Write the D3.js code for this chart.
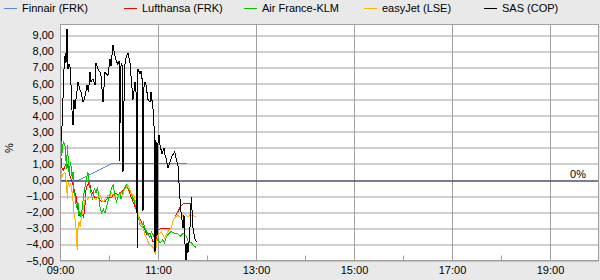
<!DOCTYPE html>
<html>
<head>
<meta charset="utf-8">
<script src="https://cdn.jsdelivr.net/npm/d3@7"></script>
<style>
  html, body { margin: 0; padding: 0; background: #e9e9e9; }
  svg { display: block; font-family: "Liberation Sans", Arial, sans-serif; }
</style>
</head>
<body>
<svg id="chart" width="600" height="280"></svg>
<script>
// series names and colours, legend order
var names = ["Finnair (FRK)", "Lufthansa (FRK)", "Air France-KLM", "easyJet (LSE)", "SAS (COP)"];
var colors = ["#5b88d8", "#ff0000", "#00c800", "#ffb400", "#000000"];

// tick values
var yTicks = [-5, -4, -3, -2, -1, 0, 1, 2, 3, 4, 5, 6, 7, 8, 9];
var xMajor = ["09:00", "11:00", "13:00", "15:00", "17:00", "19:00"];
var xMinor = ["10:00", "12:00", "14:00", "16:00", "18:00"];
var xStart = "09:00", xEnd = "20:00";

// percent change since open, [time, value]
var finnair = [["09:00", 0], ["09:23", 0], ["10:05", 1.05], ["11:35", 1.05]];

var lufthansa = [
  ["09:00", 0], ["09:01", 1.55], ["09:02", 0.8], ["09:04", 0.6], ["09:08", 1.1], ["09:12", 0.3],
  ["09:16", -0.3], ["09:20", -1.1], ["09:23", -2.2], ["09:26", -2.1], ["09:29", -2.3], ["09:31", -1.35],
  ["09:32", -0.5], ["09:34", -0.3], ["09:36", -0.1], ["09:38", -0.6], ["09:42", -1.05], ["09:47", -1.1],
  ["09:51", -1.35], ["09:55", -1.35], ["09:59", -1.05], ["10:03", -1.1], ["10:07", -0.8], ["10:11", -0.9],
  ["10:15", -0.75], ["10:19", -0.5], ["10:23", -0.45], ["10:27", -1.05], ["10:31", -1.55], ["10:36", -2.2],
  ["10:40", -2.65], ["10:44", -3.1], ["10:46", -3.4], ["10:50", -3.3], ["10:54", -3.85], ["10:58", -3.6],
  ["11:00", -3.1], ["11:04", -3.0], ["11:16", -3.0], ["11:18", -2.6], ["11:22", -2.2], ["11:27", -1.7],
  ["11:31", -1.45], ["11:39", -1.45], ["11:40", -1.5]
];

var airFrance = [
  ["09:00", 0], ["09:01", 2.8], ["09:02", 1.5], ["09:04", 2.4], ["09:06", 2.2], ["09:08", 0.7],
  ["09:09", 2.2], ["09:11", 0.5], ["09:13", 1.1], ["09:15", 0.1], ["09:16", 0.5], ["09:17", -0.75],
  ["09:19", -1.1], ["09:20", -1.75], ["09:22", -1.35], ["09:23", -2.2], ["09:24", -1.9], ["09:26", -2.35],
  ["09:28", -1.35], ["09:30", -0.6], ["09:32", -0.1], ["09:34", 0.5], ["09:35", 0.2], ["09:36", -0.3],
  ["09:38", -0.8], ["09:40", -1.25], ["09:42", -0.5], ["09:44", -0.8], ["09:46", -0.45], ["09:49", -1.7],
  ["09:51", -2.05], ["09:53", -1.8], ["09:55", -2.05], ["09:57", -1.7], ["09:59", -1.25], ["10:01", -0.9],
  ["10:03", -0.5], ["10:05", -0.3], ["10:07", -0.9], ["10:09", -1.35], ["10:11", -1.05], ["10:13", -0.8],
  ["10:15", -1.2], ["10:17", -0.7], ["10:19", -0.5], ["10:21", -0.3], ["10:23", -0.5], ["10:25", -0.6],
  ["10:27", -0.8], ["10:29", -1.1], ["10:31", -1.3], ["10:33", -1.7], ["10:36", -2.3], ["10:38", -2.8],
  ["10:40", -2.9], ["10:42", -2.6], ["10:44", -3.0], ["10:46", -3.2], ["10:48", -3.4], ["10:50", -3.6],
  ["10:52", -3.2], ["10:54", -3.4], ["10:56", -3.6], ["10:58", -3.85], ["11:00", -3.6], ["11:02", -3.9],
  ["11:04", -3.85], ["11:06", -3.7], ["11:08", -3.9], ["11:10", -3.6], ["11:12", -3.4], ["11:16", -3.2],
  ["11:20", -3.3], ["11:24", -3.3], ["11:27", -3.5], ["11:31", -3.3], ["11:35", -3.5], ["11:37", -3.85],
  ["11:41", -3.9], ["11:43", -4.05], ["11:47", -4.2]
];

var easyJet = [
  ["09:00", 0], ["09:01", 0.9], ["09:02", 0.1], ["09:04", 0.4], ["09:06", 0.5], ["09:08", -0.2],
  ["09:09", -1.2], ["09:10", -0.1], ["09:12", -0.45], ["09:13", -0.2], ["09:15", -0.8], ["09:16", -1.35],
  ["09:17", -2.0], ["09:19", -2.6], ["09:20", -3.2], ["09:21", -4.35], ["09:22", -3.0], ["09:23", -2.6],
  ["09:25", -2.9], ["09:26", -2.35], ["09:28", -2.0], ["09:30", -1.35], ["09:32", -1.05], ["09:34", -1.2],
  ["09:36", -1.05], ["09:38", -1.1], ["09:40", -0.95], ["09:42", -1.15], ["09:44", -1.25], ["09:46", -1.05],
  ["09:49", -0.95], ["09:51", -1.2], ["09:53", -1.35], ["09:55", -1.2], ["09:57", -1.1], ["09:59", -0.95],
  ["10:01", -1.05], ["10:03", -0.8], ["10:05", -0.95], ["10:07", -1.05], ["10:09", -0.9], ["10:11", -1.0],
  ["10:13", -0.9], ["10:15", -0.8], ["10:17", -0.95], ["10:19", -0.6], ["10:21", -0.5], ["10:23", -0.3],
  ["10:25", -0.5], ["10:27", -0.8], ["10:29", -0.95], ["10:31", -1.05], ["10:33", -1.55], ["10:36", -2.2],
  ["10:38", -2.65], ["10:40", -2.75], ["10:42", -3.0], ["10:44", -3.4], ["10:46", -3.6], ["10:48", -3.85],
  ["10:50", -4.05], ["10:52", -4.1], ["10:54", -4.2], ["10:56", -4.45], ["10:57", -4.65], ["10:58", -3.85],
  ["11:00", -3.4], ["11:02", -3.3], ["11:04", -3.2], ["11:06", -3.4], ["11:08", -3.6], ["11:12", -3.2],
  ["11:16", -3.0], ["11:18", -2.6], ["11:20", -2.35], ["11:24", -2.2], ["11:29", -2.35], ["11:31", -2.0],
  ["11:35", -2.2], ["11:37", -2.3], ["11:39", -2.15], ["11:43", -2.2], ["11:47", -2.3]
];

var sas = [
  ["09:00:00", 0], ["09:00:37", 1.4], ["09:01:13", 2.8], ["09:01:50", 2.4], ["09:03:04", 4.2],
  ["09:04:54", 6.9], ["09:06:29", 7.9], ["09:07:21", 7.3], ["09:08:34", 9.4], ["09:09:48", 6.9],
  ["09:11:01", 7.2], ["09:13:06", 6.9], ["09:13:50", 5.0], ["09:15:55", 3.4], ["09:17:09", 5.0],
  ["09:18:22", 4.4], ["09:19:35", 5.0], ["09:22:02", 6.1], ["09:24:07", 5.65], ["09:25:43", 5.5],
  ["09:28:10", 4.85], ["09:30:15", 5.1], ["09:33:04", 5.9], ["09:34:54", 5.5], ["09:36:44", 6.7],
  ["09:37:58", 6.1], ["09:40:24", 6.3], ["09:42:51", 5.9], ["09:44:05", 7.3], ["09:46:32", 6.9],
  ["09:48:59", 6.7], ["09:50:12", 6.5], ["09:52:39", 4.85], ["09:55:06", 6.7], ["09:58:47", 6.5],
  ["10:01:13", 7.5], ["10:02:27", 7.1], ["10:04:54", 8.4], ["10:06:59", 7.8], ["10:08:34", 7.45],
  ["10:10:39", 7.2], ["10:12:15", 7.4], ["10:13:06", 1.2], ["10:14:05", 7.0], ["10:15:55", 7.3],
  ["10:17:09", 0.5], ["10:18:59", 7.0], ["10:20:49", 7.6], ["10:23:16", 7.9], ["10:25:43", 7.3],
  ["10:26:56", 6.5], ["10:29:23", 5.0], ["10:31:50", 6.1], ["10:33:04", 5.5], ["10:34:39", -4.2],
  ["10:35:31", 6.9], ["10:37:58", 6.6], ["10:39:11", 6.8], ["10:40:24", 6.5], ["10:41:38", -1.9],
  ["10:42:51", 5.8], ["10:44:05", 6.1], ["10:45:18", 5.9], ["10:47:45", 5.0], ["10:50:12", 4.85],
  ["10:51:26", 5.5], ["10:53:53", 4.4], ["10:55:06", 3.5], ["10:56:20", -4.5], ["10:57:33", 2.5],
  ["10:58:47", -3.5], ["11:00:00", 2.3], ["11:01:13", 2.8], ["11:02:27", 2.2], ["11:04:54", 1.6],
  ["11:07:21", 2.0], ["11:08:34", 1.55], ["11:09:48", 1.35], ["11:12:15", 0.75], ["11:14:41", 1.1],
  ["11:17:09", 1.5], ["11:20:27", 1.75], ["11:22:02", 1.4], ["11:24:29", 0.9], ["11:26:34", -0.9],
  ["11:28:10", -2.0], ["11:30:37", -3.0], ["11:31:50", -2.2], ["11:33:04", -4.0], ["11:34:17", -5.0],
  ["11:35:31", -3.9], ["11:36:44", -4.5], ["11:38:49", -3.4], ["11:40:47", -1.05], ["11:42:51", -3.0],
  ["11:44:56", -3.6], ["11:46:54", -3.85]
];

var seriesData = [finnair, lufthansa, airFrance, easyJet, sas];

function main() {
  var parseMin = d3.timeParse("%H:%M"),
      parseSec = d3.timeParse("%H:%M:%S");
  function parseT(s) { return s.length > 5 ? parseSec(s) : parseMin(s); }

  var loc = d3.formatLocale({decimal: ",", thousands: ".", grouping: [3], currency: ["", ""], minus: "\u2212"});
  var fmtY = loc.format(".2f");

  var svg = d3.select("#chart"),
      margin = {top: 24.5, right: 1, bottom: 19.5, left: 60},
      width = +svg.attr("width") - margin.left - margin.right,
      height = +svg.attr("height") - margin.top - margin.bottom;

  var x = d3.scaleTime()
      .domain([parseT(xStart), parseT(xEnd)])
      .range([0, width]);

  var y = d3.scaleLinear()
      .domain([-5, 9.67])
      .range([height, 0]);

  var g = svg.append("g").attr("transform", "translate(" + margin.left + "," + margin.top + ")");

  // plot background
  g.append("rect")
      .attr("width", width)
      .attr("height", height)
      .attr("fill", "#ffffff");

  // horizontal grid
  g.append("g").selectAll("line")
      .data(yTicks)
      .enter().append("line")
      .attr("x1", 0).attr("x2", width)
      .attr("y1", function(d) { return Math.round(y(d)) + 0.5; })
      .attr("y2", function(d) { return Math.round(y(d)) + 0.5; })
      .attr("stroke", "#a0a0a0");

  // vertical grid
  g.append("g").selectAll("line")
      .data(xMajor.slice(1))
      .enter().append("line")
      .attr("x1", function(d) { return Math.round(x(parseT(d))) + 0.5; })
      .attr("x2", function(d) { return Math.round(x(parseT(d))) + 0.5; })
      .attr("y1", 0).attr("y2", height)
      .attr("stroke", "#a0a0a0");

  // minor ticks
  g.append("g").selectAll("line")
      .data(xMinor)
      .enter().append("line")
      .attr("x1", function(d) { return Math.round(x(parseT(d))) + 0.5; })
      .attr("x2", function(d) { return Math.round(x(parseT(d))) + 0.5; })
      .attr("y1", height).attr("y2", height - 5)
      .attr("stroke", "#a0a0a0");

  var line = d3.line()
      .x(function(d) { return x(parseT(d[0])); })
      .y(function(d) { return y(d[1]); });

  var plot = g.append("g");

  seriesData.forEach(function(s, i) {
    plot.append("path")
        .datum(s)
        .attr("fill", "none")
        .attr("stroke", colors[i])
        .attr("stroke-width", 1)
        .attr("shape-rendering", "crispEdges")
        .attr("d", line);

    if (i === 0) {
      // zero reference line
      plot.append("line")
          .attr("x1", 0).attr("x2", width)
          .attr("y1", Math.round(y(0)) + 0.5)
          .attr("y2", Math.round(y(0)) + 0.5)
          .attr("stroke", "#1f2a5e");
    }
  });

  g.append("text")
      .attr("x", width - 13)
      .attr("y", y(0) - 2)
      .attr("text-anchor", "end")
      .attr("font-size", 11)
      .attr("fill", "#000")
      .text("0%");

  // frame
  g.append("rect")
      .attr("x", 0.5).attr("y", 0)
      .attr("width", width - 1)
      .attr("height", height)
      .attr("fill", "none")
      .attr("stroke", "#a0a0a0");

  // axes
  var yAxis = g.append("g")
      .call(d3.axisLeft(y).tickValues(yTicks).tickFormat(fmtY).tickSize(0).tickPadding(6));
  yAxis.select(".domain").remove();
  yAxis.selectAll("text").attr("font-size", 11).attr("font-family", null).attr("fill", "#000");

  var xAxis = g.append("g")
      .attr("transform", "translate(0," + height + ")")
      .call(d3.axisBottom(x).tickValues(xMajor.map(parseT)).tickFormat(d3.timeFormat("%H:%M")).tickSize(0).tickPadding(6));
  xAxis.select(".domain").remove();
  xAxis.selectAll("text").attr("font-size", 11).attr("font-family", null).attr("fill", "#000");

  svg.append("text")
      .attr("transform", "translate(13,148) rotate(-90)")
      .attr("text-anchor", "middle")
      .attr("font-size", 11)
      .text("%");

  // legend
  var legend = svg.append("g").selectAll("g")
      .data(names)
      .enter().append("g")
      .attr("transform", function(d, i) { return "translate(" + (4 + i * 120) + ",0)"; });
  legend.append("rect")
      .attr("x", 0).attr("y", 8)
      .attr("width", 13).attr("height", 1)
      .attr("fill", function(d, i) { return colors[i]; });
  legend.append("text")
      .attr("x", 18)
      .attr("y", 8.5)
      .attr("dy", "0.35em")
      .attr("font-size", 11)
      .text(function(d) { return d; });
}

main();
</script>
</body>
</html>
